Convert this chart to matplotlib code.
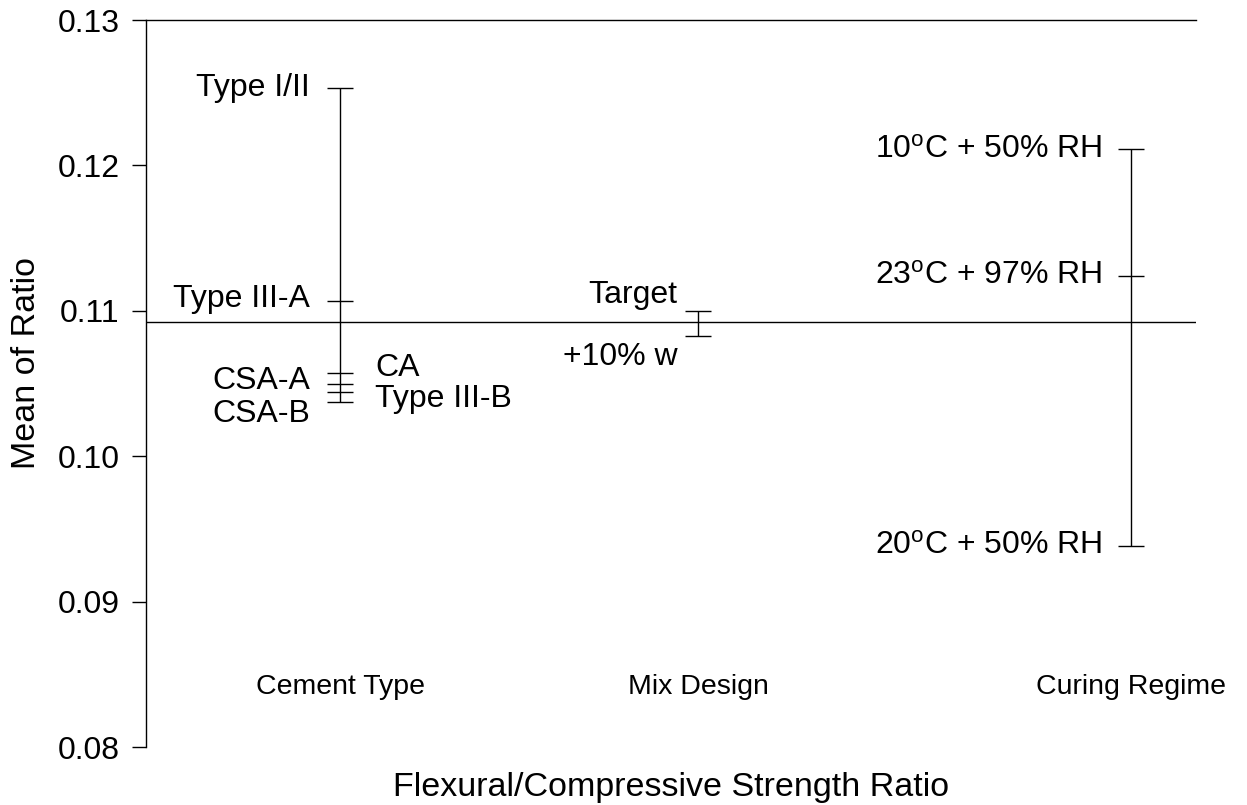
"""Mean of flexural/compressive strength ratio by factor level."""

import matplotlib

matplotlib.use("Agg")
import matplotlib.pyplot as plt

plt.rcParams["font.family"] = ["Liberation Sans", "DejaVu Sans"]
plt.rcParams["mathtext.fontset"] = "custom"
plt.rcParams["mathtext.rm"] = "Liberation Sans"
plt.rcParams["mathtext.it"] = "Liberation Sans"

# data
groups = ["Cement Type", "Mix Design", "Curing Regime"]
grand_mean = 0.1092

cement_levels = ["Type I/II", "Type III-A", "CA", "CSA-A", "Type III-B", "CSA-B"]
cement_means = [0.1253, 0.1107, 0.1057, 0.1050, 0.1044, 0.1037]

mix_levels = ["Target", "+10% w"]
mix_means = [0.1100, 0.1083]

curing_levels = [r"10$^{\mathrm{o}}$C + 50% RH", r"23$^{\mathrm{o}}$C + 97% RH", r"20$^{\mathrm{o}}$C + 50% RH"]
curing_means = [0.1211, 0.1124, 0.0938]

yticks = [0.08, 0.09, 0.10, 0.11, 0.12, 0.13]

# layout (axes fraction along x)
group_x = [0.185, 0.526, 0.938]
half = 0.0124
FS = 23      # level labels
FS_GROUP = 20.5
FS_TICK = 23
FS_AXIS = 24.5

fig = plt.figure(figsize=(12.47, 8.05), dpi=100)
ax = fig.add_axes([146 / 1247, 1 - 747 / 805, 1050 / 1247, 727 / 805])
ax.set_xlim(0, 1)
ax.set_ylim(0.08, 0.13)

lw = 1.0
ax.axhline(grand_mean, color="black", linewidth=lw)

for gx, means in zip(group_x, [cement_means, mix_means, curing_means]):
    ax.vlines(gx, min(means), max(means), color="black", linewidth=lw)
    ax.hlines(means, gx - half, gx + half, color="black", linewidth=lw)

# level labels
cx = group_x[0]
left_off = 0.0286
right_off = 0.033
ax.text(cx - left_off, cement_means[0], cement_levels[0], ha="right", va="center", fontsize=FS)
ax.text(cx - left_off, cement_means[1] + 0.0001, cement_levels[1], ha="right", va="center", fontsize=FS)
ax.text(cx + right_off, cement_means[2] + 0.0004, cement_levels[2], ha="left", va="center", fontsize=FS)
ax.text(cx - left_off, cement_means[3] + 0.0002, cement_levels[3], ha="right", va="center", fontsize=FS)
ax.text(cx + right_off, cement_means[4] - 0.0005, cement_levels[4], ha="left", va="center", fontsize=FS)
ax.text(cx - left_off, cement_means[5] - 0.0008, cement_levels[5], ha="right", va="center", fontsize=FS)

mx = group_x[1]
ax.text(mx - 0.02, mix_means[0] + 0.0011, mix_levels[0], ha="right", va="center", fontsize=FS)
ax.text(mx - 0.02, mix_means[1] - 0.0015, mix_levels[1], ha="right", va="center", fontsize=FS)

kx = group_x[2]
for m, lab in zip(curing_means, curing_levels):
    ax.text(kx - 0.0276, m, lab, ha="right", va="center", fontsize=FS)

for gx, name in zip(group_x, groups):
    ax.text(gx, 0.0841, name, ha="center", va="center", fontsize=FS_GROUP)

ax.set_yticks(yticks)
ax.set_yticklabels([f"{v:.2f}" for v in yticks], fontsize=FS_TICK)
ax.set_xticks([])
ax.tick_params(axis="y", direction="out", length=10, width=lw, pad=9)
ax.spines["right"].set_visible(False)
ax.spines["bottom"].set_visible(False)
for s in ["left", "top"]:
    ax.spines[s].set_linewidth(lw)

ax.set_ylabel("Mean of Ratio", fontsize=FS_AXIS)
ax.yaxis.set_label_coords(-0.099, 0.528)
ax.set_xlabel("Flexural/Compressive Strength Ratio", fontsize=FS_AXIS)
ax.xaxis.set_label_coords(0.5, -0.034)

fig.savefig("out.png", dpi=100, facecolor="white")
